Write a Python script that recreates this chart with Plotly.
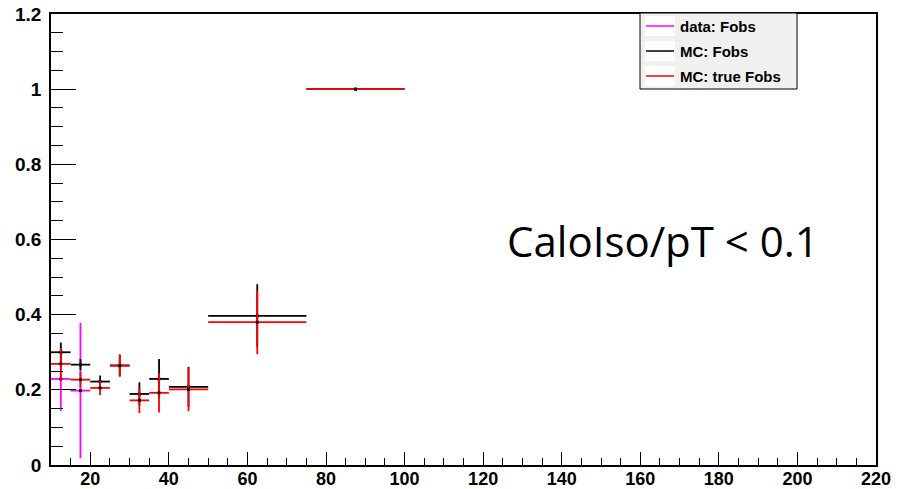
import plotly.graph_objects as go

# ---- data ----
bin_centers = [12.5, 17.5, 22.5, 27.5, 32.5, 37.5, 45.0, 62.5, 87.5]
bin_half_widths = [2.5, 2.5, 2.5, 2.5, 2.5, 2.5, 5.0, 12.5, 12.5]

mc_fobs = [0.300, 0.267, 0.222, 0.265, 0.189, 0.229, 0.208, 0.397, 1.0]
mc_fobs_err = [0.026, 0.015, 0.016, 0.029, 0.031, 0.053, 0.053, 0.084, 0.0]

mc_true_fobs = [0.269, 0.227, 0.205, 0.264, 0.172, 0.192, 0.201, 0.380, 1.0]
mc_true_fobs_err = [0.042, 0.020, 0.019, 0.029, 0.034, 0.052, 0.058, 0.085, 0.0]

data_centers = [12.5, 17.5]
data_half_widths = [2.5, 2.5]
data_fobs = [0.229, 0.198]
data_fobs_err = [0.085, 0.180]

legend_labels = ["data: Fobs", "MC: Fobs", "MC: true Fobs"]
legend_colors = ["#ff00ff", "#000000", "#ff0000"]

x_ticks = [20, 40, 60, 80, 100, 120, 140, 160, 180, 200, 220]
y_ticks = [0, 0.2, 0.4, 0.6, 0.8, 1.0, 1.2]
y_tick_text = ["0", "0.2", "0.4", "0.6", "0.8", "1", "1.2"]

# ---- figure ----
W, H = 901, 489
L, R, T, B = 51, 25, 14, 24
pw, ph = W - L - R, H - T - B


def px2paper(px, py):
    return (px - L) / pw, (H - B - py) / ph


fig = go.Figure()


def add_series(xs, xerr, ys, yerr, color):
    fig.add_trace(go.Scatter(
        x=xs, y=ys, mode="markers",
        marker=dict(size=3, color="#111111", symbol="square"),
        error_x=dict(type="data", array=xerr, symmetric=True, color=color,
                     thickness=1.8, width=0),
        error_y=dict(type="data", array=yerr, symmetric=True, color=color,
                     thickness=1.8, width=0),
        showlegend=False, hoverinfo="skip",
    ))


add_series(data_centers, data_half_widths, data_fobs, data_fobs_err, legend_colors[0])
add_series(bin_centers, bin_half_widths, mc_fobs, mc_fobs_err, legend_colors[1])
add_series(bin_centers, bin_half_widths, mc_true_fobs, mc_true_fobs_err, legend_colors[2])

axis_font = dict(family="Liberation Sans, Arial", weight=700, color="black")

fig.update_xaxes(
    range=[10, 220], tickvals=x_ticks, ticks="inside", ticklen=13, tickwidth=1,
    tickcolor="black", showline=True, linecolor="black", linewidth=1.5, mirror=True,
    showgrid=False, zeroline=False, tickfont=dict(size=18, **axis_font),
    automargin=False, ticklabelstandoff=-3,
    minor=dict(dtick=5, tick0=0, ticks="inside", ticklen=7, tickcolor="black", showgrid=False),
)
fig.update_yaxes(
    range=[0, 1.2], tickvals=y_ticks, ticktext=y_tick_text, ticks="inside", ticklen=25,
    tickwidth=1, tickcolor="black", showline=True, linecolor="black", linewidth=1.5,
    mirror=True, showgrid=False, zeroline=False, tickfont=dict(size=19, **axis_font),
    automargin=False, ticklabelstandoff=4,
    minor=dict(dtick=0.05, tick0=0, ticks="inside", ticklen=12, tickcolor="black", showgrid=False),
)

# ---- legend drawn manually ----
shapes = []
annotations = []
x0, y0 = px2paper(640, 13)
x1, y1 = px2paper(797, 89)
shapes.append(dict(type="rect", xref="paper", yref="paper", x0=x0, y0=y1, x1=x1, y1=y0,
                   line=dict(color="black", width=1), fillcolor="#f0f0f0", layer="above"))
row_y = [26, 51, 76]
for label, color, ry in zip(legend_labels, legend_colors, row_y):
    bx0, by0 = px2paper(645, ry - 10)
    bx1, by1 = px2paper(675, ry + 10)
    shapes.append(dict(type="rect", xref="paper", yref="paper", x0=bx0, y0=by1, x1=bx1, y1=by0,
                       line=dict(width=0), fillcolor="white", layer="above"))
    lx0, ly = px2paper(646, ry)
    lx1, _ = px2paper(674, ry)
    shapes.append(dict(type="line", xref="paper", yref="paper", x0=lx0, y0=ly, x1=lx1, y1=ly,
                       line=dict(color=color, width=1.5), layer="above"))
    tx, _ = px2paper(678, ry)
    annotations.append(dict(xref="paper", yref="paper", x=tx, y=ly, text=label,
                            showarrow=False, xanchor="left", yanchor="middle",
                            font=dict(family="Liberation Sans, Arial", size=15, weight=700,
                                      color="black")))

annotations.append(dict(xref="paper", yref="paper", x=px2paper(663, 0)[0], y=px2paper(0, 240)[1],
                        text="CaloIso/pT &lt; 0.1", showarrow=False, xanchor="center",
                        yanchor="middle",
                        font=dict(family="Open Sans", size=42, color="black")))

fig.update_layout(
    width=W, height=H,
    margin=dict(l=L, r=R, t=T, b=B, pad=0),
    paper_bgcolor="white", plot_bgcolor="white",
    showlegend=False, shapes=shapes, annotations=annotations,
)

fig.write_html("out.html", config={"displayModeBar": False},
               post_script="document.body.style.margin='0';")
